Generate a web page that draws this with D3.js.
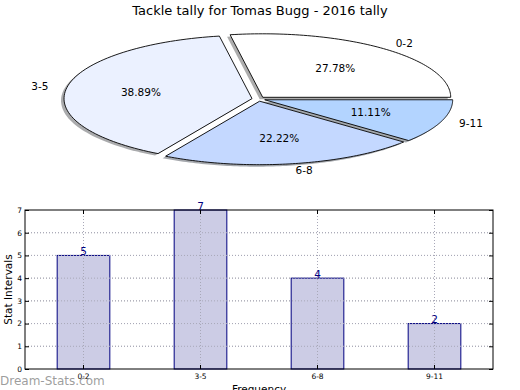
<!DOCTYPE html>
<html><head><meta charset="utf-8">
<script src="https://cdn.jsdelivr.net/npm/d3@7"></script>
<style>body{margin:0;background:#fff}svg{display:block}text{font-family:"DejaVu Sans",sans-serif}</style>
</head><body>
<svg id="c" width="520" height="390"></svg>
<script>
const title = "Tackle tally for Tomas Bugg - 2016 tally";
const categories = ["0-2", "3-5", "6-8", "9-11"];
const counts = [5, 7, 4, 2];
const sliceColors = ["#ffffff", "#ebf1ff", "#c4d8ff", "#b3d4ff"];
const yTicks = [0, 1, 2, 3, 4, 5, 6, 7];
const yLabel = "Stat Intervals";
const xLabel = "Frequency";
const watermark = "Dream-Stats.com";

const svg = d3.select("#c");
svg.append("rect").attr("width", 520).attr("height", 390).attr("fill", "#fff");

svg.append("text").attr("x", 260).attr("y", 15).attr("text-anchor", "middle")
  .attr("font-size", 13).attr("fill", "#000").text(title);

// ---- Pie (elliptical, exploded, with shadow) ----
const cx = 258.5, cy = 99, rx = 188, ry = 63.5, explode = 0.035;
const total = d3.sum(counts);
const pie = d3.pie().sort(null).value(d => d).startAngle(0).endAngle(2 * Math.PI);
const arcsData = pie(counts);
const pg = svg.append("g");
function slicePath(a0, a1, ox, oy) {
  const p = d3.path();
  p.moveTo(ox, oy);
  const n = 80;
  for (let i = 0; i <= n; i++) {
    const a = a0 + (a1 - a0) * i / n;
    p.lineTo(ox + rx * Math.cos(a), oy - ry * Math.sin(a));
  }
  p.closePath();
  return p.toString();
}
const slices = arcsData.map((d, i) => {
  const a0 = d.startAngle, a1 = d.endAngle, mid = (a0 + a1) / 2;
  const ox = cx + explode * rx * Math.cos(mid), oy = cy - explode * ry * Math.sin(mid);
  return {i, a0, a1, mid, ox, oy, v: d.value};
});
slices.forEach(s => {
  pg.append("path").attr("d", slicePath(s.a0, s.a1, s.ox - 3, s.oy + 2))
    .attr("fill", d3.color(sliceColors[s.i]).darker(3.5)).attr("fill-opacity", 0.45);
});
slices.forEach(s => {
  pg.append("path").attr("d", slicePath(s.a0, s.a1, s.ox, s.oy))
    .attr("fill", sliceColors[s.i]).attr("stroke", "#000").attr("stroke-width", 0.9)
    .attr("stroke-linejoin", "miter");
});
slices.forEach(s => {
  const lx = s.ox + 1.1 * rx * Math.cos(s.mid), ly = s.oy - 1.1 * ry * Math.sin(s.mid);
  pg.append("text").attr("x", lx).attr("y", ly).attr("dy", "0.35em")
    .attr("text-anchor", Math.cos(s.mid) > 0 ? "start" : "end")
    .attr("font-size", 10.5).text(categories[s.i]);
  const px = s.ox + 0.6 * rx * Math.cos(s.mid), py = s.oy - 0.6 * ry * Math.sin(s.mid);
  pg.append("text").attr("x", px).attr("y", py).attr("dy", "0.35em")
    .attr("text-anchor", "middle").attr("font-size", 10.5)
    .text((s.v / total * 100).toFixed(2) + "%");
});

// ---- Bar chart ----
const L = 25, R = 493, T = 210, B = 369;
const x = d3.scaleBand().domain(categories).range([L, R]).paddingInner(0).paddingOuter(0);
const y = d3.scaleLinear().domain([0, 7]).range([B, T]);
const barW = x.bandwidth() * 0.45;
const bg = svg.append("g");

bg.selectAll(".gy").data(yTicks.slice(1, -1)).join("line")
  .attr("x1", L).attr("x2", R).attr("y1", d => y(d)).attr("y2", d => y(d))
  .attr("stroke", "#b0b0b0").attr("stroke-width", 1).attr("stroke-dasharray", "1,2");
bg.selectAll(".gx").data(categories).join("line")
  .attr("x1", d => x(d) + x.bandwidth() / 2).attr("x2", d => x(d) + x.bandwidth() / 2)
  .attr("y1", T).attr("y2", B)
  .attr("stroke", "#b0b0b0").attr("stroke-width", 1).attr("stroke-dasharray", "1,2");

bg.selectAll(".bar").data(counts).join("rect")
  .attr("x", (d, i) => x(categories[i]) + x.bandwidth() / 2 - barW / 2)
  .attr("y", d => y(d)).attr("width", barW).attr("height", d => B - y(d))
  .attr("fill", "#ccccE5").attr("stroke", "#000080").attr("stroke-width", 1);

bg.selectAll(".gx2").data(categories).join("line")
  .attr("x1", d => x(d) + x.bandwidth() / 2).attr("x2", d => x(d) + x.bandwidth() / 2)
  .attr("y1", T).attr("y2", B)
  .attr("stroke", "#a8a8b8").attr("stroke-width", 1).attr("stroke-dasharray", "1,2");
bg.selectAll(".gy2").data(yTicks.slice(1, -1)).join("line")
  .attr("x1", L).attr("x2", R).attr("y1", d => y(d)).attr("y2", d => y(d))
  .attr("stroke", "#a8a8b8").attr("stroke-width", 1).attr("stroke-dasharray", "1,2");

bg.selectAll(".vl").data(counts).join("text")
  .attr("x", (d, i) => x(categories[i]) + x.bandwidth() / 2).attr("y", d => y(d) - 0.5)
  .attr("text-anchor", "middle").attr("font-size", 10.5).attr("fill", "#000080").text(d => d);

bg.append("rect").attr("x", L).attr("y", T).attr("width", R - L).attr("height", B - T)
  .attr("fill", "none").attr("stroke", "#000").attr("stroke-width", 1);

const ya = bg.append("g").attr("transform", `translate(${L},0)`)
  .call(d3.axisLeft(y).tickValues(yTicks).tickSize(-4).tickPadding(3).tickFormat(d3.format("d")));
const yr = bg.append("g").attr("transform", `translate(${R},0)`)
  .call(d3.axisRight(y).tickValues(yTicks).tickSize(-4).tickFormat(""));
const xa = bg.append("g").attr("transform", `translate(0,${B})`)
  .call(d3.axisBottom(x).tickSize(-4).tickPadding(5));
const xt = bg.append("g").attr("transform", `translate(0,${T})`)
  .call(d3.axisTop(x).tickSize(-4).tickFormat(""));
[ya, yr, xa, xt].forEach(g => {
  g.select(".domain").remove();
  g.selectAll("line").attr("stroke", "#000");
  g.selectAll("text").attr("font-size", 7.5).attr("font-family", "DejaVu Sans").attr("fill", "#000");
});

svg.append("text").attr("transform", `translate(12,${(T + B) / 2}) rotate(-90)`)
  .attr("text-anchor", "middle").attr("font-size", 10.5).text(yLabel);
svg.append("text").attr("x", 259).attr("y", 393).attr("text-anchor", "middle")
  .attr("font-size", 10.5).text(xLabel);

svg.append("text").attr("x", 0).attr("y", 385).attr("font-size", 12)
  .attr("fill", "#8c8c8c").attr("fill-opacity", 0.85).text(watermark);
</script>
</body></html>
